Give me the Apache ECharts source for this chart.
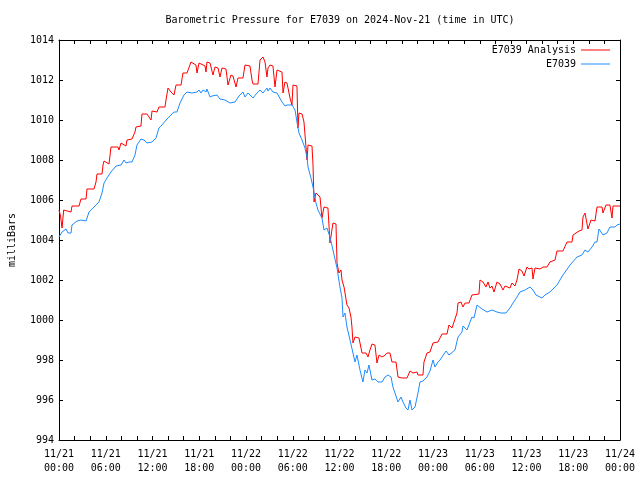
<!DOCTYPE html>
<html><head><meta charset="utf-8">
<script src="https://cdn.jsdelivr.net/npm/echarts@6/dist/echarts.min.js"></script>
<style>html,body{margin:0;padding:0;background:#fff}#c{width:640px;height:480px}</style>
</head><body><div id="c"></div>
<script>
const titleText = 'Barometric Pressure for E7039 on 2024-Nov-21 (time in UTC)';
const yAxisName = 'milliBars';
const seriesNames = ['E7039 Analysis', 'E7039'];
const xTickLabels = ['11/21\n00:00','11/21\n06:00','11/21\n12:00','11/21\n18:00','11/22\n00:00','11/22\n06:00','11/22\n12:00','11/22\n18:00','11/23\n00:00','11/23\n06:00','11/23\n12:00','11/23\n18:00','11/24\n00:00'];
// hours since 2024-11-21 00:00 UTC, pressure in mbar
const analysisData = [[0,1005.5],[0.2,1005.2],[0.39,1004.6],[0.6,1005.5],[0.77,1005.4],[1.54,1005.4],[1.67,1005.7],[2.57,1005.7],[2.82,1006.05],[3.47,1006.05],[3.59,1006.55],[4.49,1006.55],[4.75,1006.9],[4.88,1007.3],[5.52,1007.3],[5.65,1007.75],[5.78,1007.95],[6.42,1007.8],[6.67,1008.65],[7.57,1008.65],[7.7,1008.5],[7.96,1008.85],[8.6,1008.7],[8.73,1009.0],[9.37,1009.05],[9.75,1009.4],[9.88,1009.65],[10.52,1009.7],[10.65,1010.3],[11.29,1010.3],[11.81,1010.0],[11.94,1010.45],[12.58,1010.4],[12.83,1010.65],[13.6,1010.65],[13.73,1011.0],[13.99,1011.6],[14.37,1011.4],[14.76,1011.25],[15.02,1011.75],[15.66,1011.75],[15.91,1012.35],[16.43,1012.35],[16.94,1012.9],[17.07,1012.85],[17.58,1012.75],[17.71,1012.35],[17.97,1012.85],[18.74,1012.7],[18.87,1012.4],[18.99,1012.9],[19.38,1012.85],[19.76,1012.25],[20.02,1012.65],[20.41,1012.6],[20.66,1012.15],[20.92,1012.6],[21.43,1012.55],[21.69,1011.75],[22.07,1012.25],[22.33,1012.2],[22.72,1011.65],[22.97,1012.1],[23.61,1012.1],[23.87,1012.75],[24.51,1012.7],[24.77,1012.0],[24.9,1011.8],[25.54,1011.8],[25.8,1013.0],[26.18,1013.15],[26.44,1012.9],[26.69,1012.15],[26.82,1012.6],[27.08,1012.75],[27.46,1012.7],[27.72,1011.65],[27.98,1012.5],[28.62,1012.4],[28.75,1011.35],[29.0,1011.9],[29.26,1011.85],[29.65,1011.1],[29.9,1010.75],[30.03,1011.75],[30.54,1011.7],[30.67,1009.6],[30.8,1010.35],[31.19,1010.3],[31.44,1009.9],[31.7,1008.65],[31.83,1008.0],[31.96,1008.75],[32.47,1008.7],[32.6,1007.75],[32.73,1005.9],[32.98,1006.35],[33.5,1006.15],[33.75,1005.1],[34.01,1005.65],[34.52,1005.6],[34.78,1003.85],[35.16,1004.85],[35.55,1004.8],[35.68,1002.85],[35.93,1002.35],[36.19,1002.5],[36.32,1002.0],[36.58,1001.65],[36.96,1000.75],[37.22,1000.6],[37.47,1000.15],[37.6,999.65],[37.73,998.85],[37.99,999.15],[38.5,999.1],[38.89,998.35],[39.4,998.35],[39.66,998.15],[39.91,998.5],[40.17,998.8],[40.55,998.75],[40.81,997.85],[41.07,998.25],[41.45,998.15],[41.71,998.2],[42.09,998.35],[42.48,998.35],[42.73,997.9],[43.25,997.9],[43.51,997.15],[43.76,997.25],[44.02,997.1],[44.66,997.1],[45.05,997.45],[45.43,997.35],[45.95,997.4],[46.07,997.25],[46.71,997.25],[46.84,997.9],[47.23,998.35],[47.61,998.4],[48.0,998.85],[48.64,998.9],[48.9,999.1],[49.15,999.3],[49.79,999.3],[50.05,999.75],[50.44,999.6],[50.69,999.65],[51.08,1000.35],[51.21,1000.85],[51.59,1000.9],[51.85,1000.65],[52.11,1000.85],[52.62,1000.85],[53.0,1001.25],[53.13,1001.3],[53.9,1001.3],[54.03,1002.0],[54.41,1001.9],[54.8,1001.65],[55.06,1001.9],[55.31,1001.6],[55.57,1001.7],[55.83,1001.4],[56.21,1001.9],[56.6,1001.8],[56.98,1001.5],[57.24,1001.7],[57.88,1001.6],[58.14,1001.85],[58.52,1001.7],[58.78,1002.0],[59.04,1002.55],[59.42,1002.45],[59.68,1002.2],[60.06,1002.65],[60.32,1002.55],[60.71,1002.6],[60.83,1002.05],[61.09,1002.6],[61.73,1002.55],[62.11,1002.65],[62.63,1002.65],[63.01,1002.9],[63.66,1003.0],[63.91,1003.45],[64.68,1003.45],[65.2,1003.9],[65.84,1003.9],[65.97,1004.25],[66.74,1004.45],[67.12,1004.5],[67.25,1005.15],[67.51,1005.35],[67.89,1004.55],[68.28,1005.0],[68.79,1004.95],[69.05,1005.65],[69.69,1005.65],[69.82,1005.35],[70.2,1005.75],[70.71,1005.75],[70.97,1005.1],[71.1,1005.7],[72,1005.7]];
const stationData = [[0,1004.15],[0.39,1004.4],[0.9,1004.55],[1.16,1004.35],[1.54,1004.35],[1.67,1004.75],[2.31,1004.95],[2.82,1005.0],[2.95,1004.9],[3.47,1004.95],[3.85,1005.4],[4.24,1005.55],[4.75,1005.75],[5.13,1005.9],[5.52,1006.35],[5.78,1006.85],[6.16,1007.1],[6.67,1007.4],[7.32,1007.7],[7.96,1007.75],[8.34,1008.0],[8.6,1007.85],[8.98,1007.9],[9.37,1007.9],[9.75,1008.25],[10.01,1008.75],[10.52,1009.05],[10.91,1009.0],[11.29,1008.85],[11.94,1008.9],[12.45,1009.1],[12.83,1009.6],[13.22,1009.75],[13.86,1010.05],[14.37,1010.25],[14.76,1010.4],[15.14,1010.4],[15.53,1010.85],[16.04,1011.25],[16.43,1011.4],[17.07,1011.35],[17.71,1011.4],[17.97,1011.5],[18.22,1011.35],[18.48,1011.5],[18.87,1011.4],[18.99,1011.55],[19.38,1011.15],[19.64,1011.2],[20.28,1011.25],[20.66,1011.05],[21.3,1011.0],[21.95,1010.85],[22.59,1010.9],[23.1,1011.2],[23.61,1011.4],[23.87,1011.15],[24.26,1011.35],[24.9,1011.1],[25.41,1011.35],[25.8,1011.5],[26.18,1011.35],[26.69,1011.6],[26.82,1011.45],[27.08,1011.6],[27.46,1011.4],[27.98,1011.35],[28.62,1010.9],[29.0,1010.7],[29.26,1010.75],[29.9,1010.75],[30.29,1010.5],[30.54,1009.9],[30.8,1009.35],[31.19,1009.0],[31.57,1008.6],[31.83,1008.15],[31.96,1007.65],[32.34,1007.1],[32.6,1006.65],[32.98,1005.85],[33.24,1005.5],[33.75,1005.1],[34.01,1004.5],[34.39,1004.6],[34.78,1004.15],[35.16,1003.5],[35.68,1002.6],[36.06,1001.65],[36.32,1001.1],[36.45,1000.15],[36.7,1000.35],[36.96,999.65],[37.35,999.0],[37.73,998.35],[37.99,997.9],[38.24,998.25],[38.63,997.5],[39.01,996.9],[39.27,997.5],[39.53,997.35],[39.78,997.75],[40.17,997.0],[40.3,996.9],[40.55,997.05],[40.94,996.9],[41.45,996.9],[41.84,997.15],[42.22,997.25],[42.61,997.15],[42.86,996.65],[43.12,996.35],[43.51,995.9],[43.89,996.15],[44.15,995.9],[44.53,995.6],[44.79,995.5],[45.05,996.0],[45.3,995.5],[45.69,995.65],[46.07,996.35],[46.33,996.9],[46.71,996.95],[47.23,997.15],[47.61,997.45],[48.0,998.0],[48.25,997.65],[48.64,997.9],[48.9,998.0],[49.67,998.45],[50.05,998.25],[50.82,998.5],[51.21,999.15],[51.72,999.4],[51.85,999.7],[52.36,999.5],[52.75,999.9],[53.0,1000.15],[53.26,1000.1],[53.65,1000.75],[54.29,1000.55],[54.54,1000.65],[54.93,1000.4],[55.57,1000.5],[56.21,1000.4],[56.72,1000.35],[57.37,1000.35],[57.88,1000.6],[58.27,1000.85],[58.78,1001.15],[59.16,1001.4],[59.81,1001.5],[60.45,1001.65],[60.83,1001.5],[61.22,1001.25],[61.99,1001.1],[62.37,1001.25],[63.01,1001.4],[63.91,1001.75],[64.68,1002.25],[65.59,1002.75],[66.48,1003.15],[67.12,1003.25],[67.51,1003.5],[67.89,1003.4],[68.41,1003.65],[68.79,1003.9],[69.05,1003.9],[69.3,1004.55],[69.82,1004.25],[70.33,1004.35],[70.71,1004.65],[71.35,1004.65],[71.61,1004.75],[72,1004.8]];

const FONT = 'DejaVu Sans Mono';
const txt = {fontFamily: FONT, fontSize: 10, color: '#000'};
const chart = echarts.init(document.getElementById('c'), null, {renderer: 'canvas'});
const tickStyle = {inside: true, length: 4, lineStyle: {color: '#000', width: 1}};
const xBase = {type: 'value', min: 0, max: 72, interval: 6,
  axisLine: {show: true, onZero: false, lineStyle: {color: '#000', width: 1}},
  axisTick: tickStyle,
  minorTick: {show: true, splitNumber: 3, length: 4, lineStyle: {color: '#000', width: 1}},
  splitLine: {show: false}, minorSplitLine: {show: false}};
const yBase = {type: 'value', min: 994, max: 1014, interval: 2,
  axisLine: {show: true, onZero: false, lineStyle: {color: '#000', width: 1}},
  axisTick: tickStyle, splitLine: {show: false}};
const legendBase = {right: 30, icon: 'rect', itemWidth: 29, itemHeight: 1, align: 'right', textStyle: txt, itemGap: 0, padding: 0};
chart.setOption({
  animation: false,
  backgroundColor: '#fff',
  title: {text: titleText, left: 340, top: 15, textAlign: 'center', padding: 0,
    textStyle: Object.assign({fontWeight: 'normal'}, txt)},
  legend: [
    Object.assign({data: [seriesNames[0]], top: 45}, legendBase),
    Object.assign({data: [seriesNames[1]], top: 59}, legendBase)
  ],
  grid: {left: 59, right: 20, top: 40, bottom: 40, containLabel: false, outerBoundsMode: 'none'},
  xAxis: [
    Object.assign({}, xBase, {position: 'bottom',
      axisLabel: Object.assign({margin: 7, lineHeight: 14, formatter: v => xTickLabels[Math.round(v / 6)]}, txt)}),
    Object.assign({}, xBase, {position: 'top', axisLabel: {show: false}})
  ],
  yAxis: [
    Object.assign({}, yBase, {position: 'left', name: yAxisName, nameLocation: 'middle', nameGap: 42, nameRotate: 90,
      nameTextStyle: txt, axisLabel: Object.assign({margin: 5, formatter: v => String(v)}, txt)}),
    Object.assign({}, yBase, {position: 'right', axisLabel: {show: false}})
  ],
  series: [
    {name: seriesNames[0], type: 'line', data: analysisData, showSymbol: false, symbol: 'none',
      lineStyle: {color: '#ff0000', width: 1}, itemStyle: {color: '#ff0000'}},
    {name: seriesNames[1], type: 'line', data: stationData, showSymbol: false, symbol: 'none',
      lineStyle: {color: '#1e8cff', width: 1}, itemStyle: {color: '#1e8cff'}}
  ]
});
</script></body></html>
